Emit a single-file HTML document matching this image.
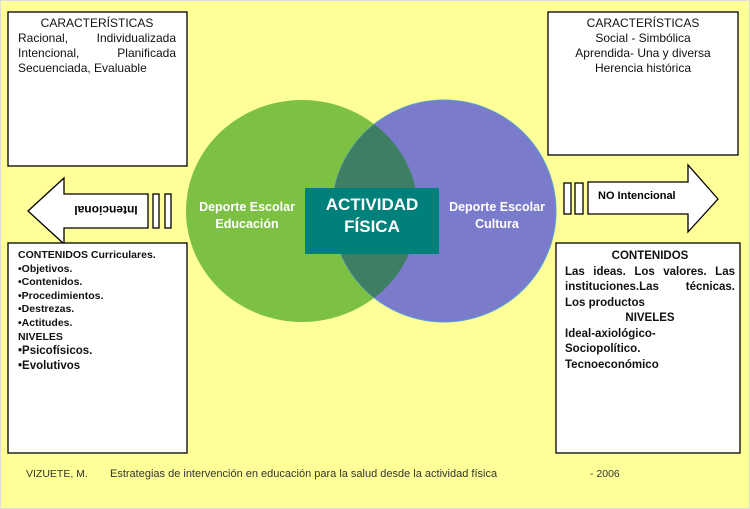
<html><body style="margin:0;width:750px;height:509px;background:#FFFF99;position:relative;overflow:hidden;font-family:'Liberation Sans',sans-serif;">
<svg width="750" height="509" style="position:absolute;left:0;top:0">
<rect x="0.5" y="0.5" width="749" height="508" fill="#FFFF99" stroke="#ddd"/>
<ellipse cx="302" cy="211" rx="116" ry="111" fill="#7DC142"/>
<ellipse cx="444" cy="211" rx="112" ry="111" fill="#7B7BCB" stroke="#5aa0d0" stroke-width="1"/>
<clipPath id="c"><ellipse cx="302" cy="211" rx="116" ry="111"/></clipPath>
<ellipse cx="444" cy="211" rx="112" ry="111" fill="#3E7F63" clip-path="url(#c)"/>
<rect x="305" y="188" width="134" height="66" fill="#00807A"/>
<polygon points="28,211 64,178 64,194 148,194 148,228 64,228 64,244" fill="#fff" stroke="#000" stroke-width="1.3"/>
<rect x="153" y="194" width="6" height="34" fill="#fff" stroke="#000" stroke-width="1.3"/>
<rect x="165" y="194" width="6" height="34" fill="#fff" stroke="#000" stroke-width="1.3"/>
<polygon points="718,199 688,165 688,182 588,182 588,214 688,214 688,232" fill="#fff" stroke="#000" stroke-width="1.3"/>
<rect x="564" y="183" width="7" height="31" fill="#fff" stroke="#000" stroke-width="1.3"/>
<rect x="575" y="183" width="8" height="31" fill="#fff" stroke="#000" stroke-width="1.3"/>
<rect x="8" y="12" width="179" height="154" fill="#fff" stroke="#000" stroke-width="1.3"/>
<rect x="548" y="12" width="190" height="143" fill="#fff" stroke="#000" stroke-width="1.3"/>
<rect x="8" y="243" width="179" height="210" fill="#fff" stroke="#000" stroke-width="1.3"/>
<rect x="556" y="243" width="184" height="210" fill="#fff" stroke="#000" stroke-width="1.3"/>
</svg>
<div style="position:absolute;left:18px;top:16px;width:158px;font-size:12px;line-height:15px;color:#111">
<div style="text-align:center">CARACTERÍSTICAS</div>
<div style="text-align:justify;text-align-last:justify">Racional, Individualizada Intencional, Planificada</div>
<div>Secuenciada, Evaluable</div></div>
<div style="position:absolute;left:550px;top:16px;width:186px;font-size:12px;line-height:15px;color:#111;text-align:center">CARACTERÍSTICAS<br>Social - Simbólica<br>Aprendida- Una y diversa<br>Herencia histórica</div>
<div style="position:absolute;left:64px;top:203px;width:84px;text-align:center;font-size:12px;font-weight:bold;transform:rotate(180deg)">Intencional</div>
<div style="position:absolute;left:598px;top:190px;font-size:11px;font-weight:bold">NO Intencional</div>
<div style="position:absolute;left:18px;top:249px;font-size:10.5px;line-height:13.6px;font-weight:bold;color:#111">CONTENIDOS Curriculares.<br>•Objetivos.<br>•Contenidos.<br>•Procedimientos.<br>•Destrezas.<br>•Actitudes.<br>NIVELES<br><span style="font-size:11.5px;line-height:15px">•Psicofísicos.<br>•Evolutivos</span></div>
<div style="position:absolute;left:565px;top:249px;width:170px;font-size:11.5px;line-height:15.5px;font-weight:bold;color:#111">
<div style="text-align:center">CONTENIDOS</div>
<div style="text-align:justify;text-align-last:justify">Las ideas. Los valores. Las instituciones.Las técnicas.</div>
<div>Los productos</div><div style="text-align:center">NIVELES</div>
<div>Ideal-axiológico-<br>Sociopolítico.<br>Tecnoeconómico</div></div>
<div style="position:absolute;left:187px;top:199px;width:120px;text-align:center;color:#fff;font-weight:bold;font-size:12.5px;line-height:17px">Deporte Escolar<br>Educación</div>
<div style="position:absolute;left:437px;top:199px;width:120px;text-align:center;color:#fff;font-weight:bold;font-size:12.5px;line-height:17px">Deporte Escolar<br>Cultura</div>
<div style="position:absolute;left:305px;top:194px;width:134px;text-align:center;color:#fff;font-size:17px;line-height:22px;font-weight:bold">ACTIVIDAD<br>FÍSICA</div>
<div style="position:absolute;left:26px;top:468px;font-size:10.5px;color:#333">VIZUETE, M.</div>
<div style="position:absolute;left:110px;top:468px;font-size:11px;color:#333">Estrategias de intervención en educación para la salud desde la actividad física</div>
<div style="position:absolute;left:590px;top:468px;font-size:10.5px;color:#333">- 2006</div>
</body></html>
